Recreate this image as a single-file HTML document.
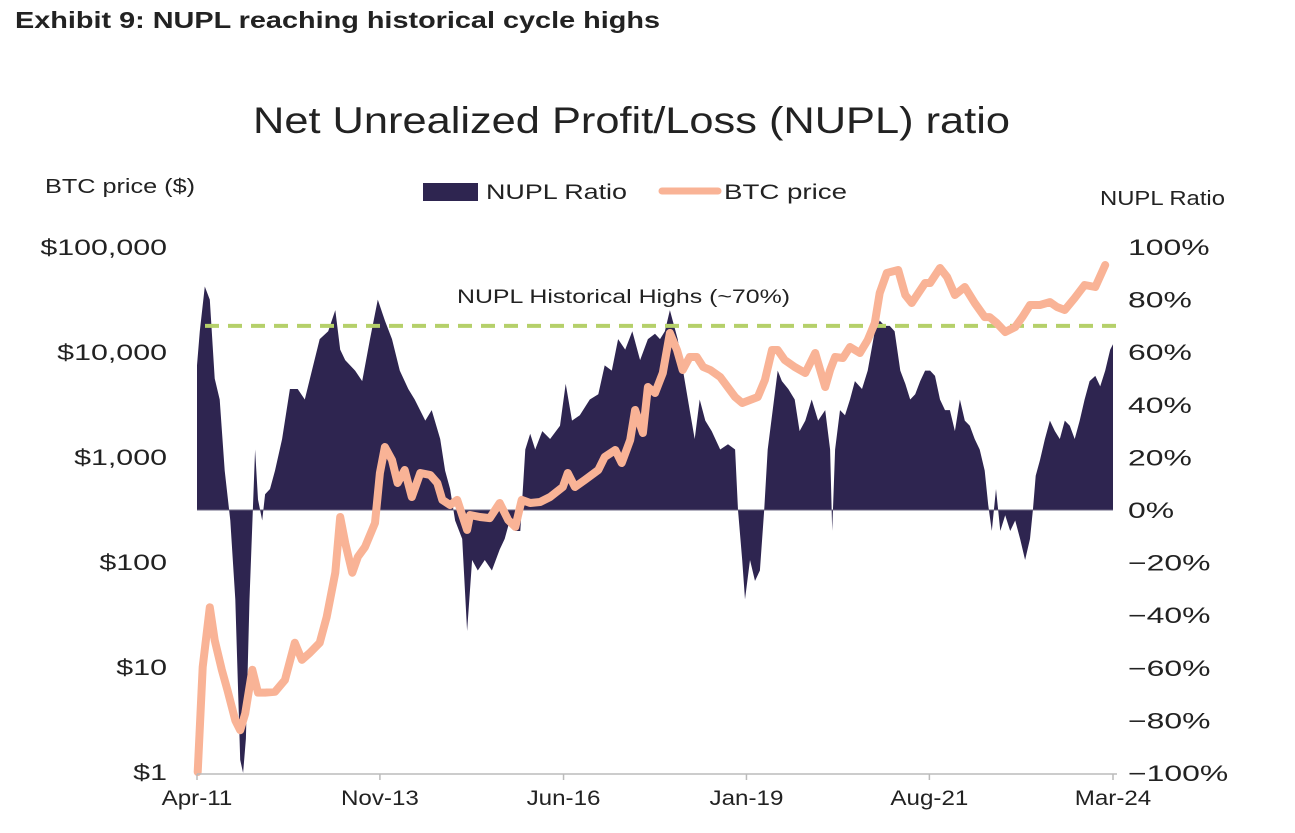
<!DOCTYPE html>
<html><head><meta charset="utf-8"><style>
body{margin:0;background:#fff;width:1295px;height:833px;overflow:hidden;font-family:"Liberation Sans",sans-serif}
svg{position:absolute;left:0;top:0}
</style></head><body>
<svg id="c" width="1295" height="833">
<text x="15" y="28" font-size="23" font-weight="bold" fill="#222" textLength="645" lengthAdjust="spacingAndGlyphs">Exhibit 9: NUPL reaching historical cycle highs</text>
<text x="253" y="133" font-size="37" fill="#222" textLength="757" lengthAdjust="spacingAndGlyphs">Net Unrealized Profit/Loss (NUPL) ratio</text>
<text x="45" y="193" font-size="20" fill="#222" textLength="150" lengthAdjust="spacingAndGlyphs">BTC price ($)</text>
<text x="1100" y="205" font-size="20" fill="#222" textLength="125" lengthAdjust="spacingAndGlyphs">NUPL Ratio</text>
<g>
<rect x="423" y="183" width="55" height="18" fill="#2e2550"/>
<text x="486" y="199" font-size="21" fill="#222" textLength="141" lengthAdjust="spacingAndGlyphs">NUPL Ratio</text>
<line x1="662" y1="191" x2="718" y2="191" stroke="#f9b396" stroke-width="7" stroke-linecap="round"/>
<text x="724" y="199" font-size="21" fill="#222" textLength="123" lengthAdjust="spacingAndGlyphs">BTC price</text>
</g>
<g id="plot"></g>
<text x="457" y="303" font-size="19" fill="#222" textLength="333" lengthAdjust="spacingAndGlyphs">NUPL Historical Highs (~70%)</text>
</svg>
<script>
const nuplDates=[2011.25,2011.29,2011.36,2011.43,2011.50,2011.57,2011.64,2011.72,2011.79,2011.86,2011.90,2011.94,2011.99,2012.07,2012.11,2012.17,2012.21,2012.28,2012.35,2012.45,2012.56,2012.67,2012.77,2012.87,2012.98,2013.10,2013.20,2013.27,2013.34,2013.48,2013.58,2013.69,2013.80,2013.90,2014.00,2014.11,2014.23,2014.32,2014.47,2014.56,2014.68,2014.75,2014.82,2014.89,2014.99,2015.06,2015.13,2015.21,2015.31,2015.41,2015.52,2015.59,2015.66,2015.74,2015.81,2015.88,2015.95,2016.02,2016.12,2016.23,2016.37,2016.45,2016.54,2016.65,2016.79,2016.91,2017.00,2017.10,2017.19,2017.29,2017.39,2017.50,2017.61,2017.71,2017.78,2017.85,2017.92,2017.96,2018.03,2018.13,2018.20,2018.27,2018.34,2018.42,2018.51,2018.63,2018.74,2018.84,2018.88,2018.94,2018.98,2019.05,2019.12,2019.19,2019.25,2019.30,2019.37,2019.44,2019.50,2019.59,2019.68,2019.75,2019.83,2019.92,2020.01,2020.11,2020.18,2020.21,2020.25,2020.32,2020.39,2020.46,2020.53,2020.63,2020.71,2020.81,2020.88,2020.95,2021.02,2021.09,2021.17,2021.24,2021.31,2021.38,2021.45,2021.52,2021.59,2021.66,2021.73,2021.80,2021.87,2021.94,2022.01,2022.08,2022.15,2022.22,2022.29,2022.36,2022.41,2022.46,2022.52,2022.58,2022.65,2022.72,2022.79,2022.86,2022.93,2023.00,2023.04,2023.08,2023.14,2023.21,2023.28,2023.35,2023.42,2023.49,2023.56,2023.63,2023.70,2023.77,2023.84,2023.92,2023.99,2024.06,2024.13,2024.17];
const nuplValues=[55,68,85,80,50,42,15,-4,-34,-95,-100,-87,-34,23,4,-4,6,8,15,27,46,46,42,53,65,68,76,61,57,53,49,65,80,72,65,53,46,42,34,38,27,15,8,-4,-11,-46,-19,-23,-19,-23,-15,-11,-4,-8,-8,23,29,23,30,27,32,48,34,36,42,44,55,53,65,61,68,57,65,67,65,68,76,72,65,49,38,27,42,34,30,23,25,23,0,-19,-34,-19,-27,-23,0,23,38,53,49,46,42,30,34,42,34,38,23,-8,23,38,36,42,49,46,53,68,72,70,70,68,53,48,42,44,49,53,53,51,42,38,38,30,42,34,32,27,23,15,2,-8,8,-8,-2,-8,-4,-11,-19,-11,0,13,19,27,34,30,27,34,32,27,34,42,49,51,47,53,61,63];
const priceDates=[2011.26,2011.33,2011.43,2011.50,2011.60,2011.68,2011.79,2011.86,2011.93,2012.03,2012.11,2012.21,2012.35,2012.49,2012.63,2012.73,2012.84,2012.98,2013.08,2013.20,2013.27,2013.34,2013.44,2013.52,2013.62,2013.76,2013.83,2013.90,2014.00,2014.08,2014.18,2014.28,2014.40,2014.54,2014.64,2014.71,2014.82,2014.92,2015.06,2015.10,2015.24,2015.38,2015.52,2015.64,2015.74,2015.83,2015.95,2016.09,2016.23,2016.41,2016.48,2016.58,2016.72,2016.91,2017.00,2017.15,2017.24,2017.36,2017.43,2017.54,2017.61,2017.71,2017.82,2017.92,2018.02,2018.10,2018.20,2018.30,2018.39,2018.49,2018.63,2018.84,2018.94,2019.05,2019.16,2019.26,2019.36,2019.44,2019.54,2019.68,2019.83,2019.97,2020.11,2020.18,2020.25,2020.36,2020.46,2020.60,2020.71,2020.81,2020.88,2020.98,2021.14,2021.24,2021.33,2021.52,2021.59,2021.73,2021.83,2021.94,2022.08,2022.22,2022.36,2022.43,2022.53,2022.65,2022.79,2022.89,2023.00,2023.14,2023.28,2023.38,2023.49,2023.63,2023.77,2023.92,2024.06,2024.16];
const priceValues=[1,10,37,18,9.4,6,3.1,2.5,3.6,9.4,5.7,5.7,5.8,7.5,17,11.7,13.6,17,30,79,268,152,79,112,139,235,704,1245,936,565,752,416,704,674,565,390,349,390,202,280,268,262,365,251,216,390,365,373,416,518,704,518,604,752,1000,1166,877,1452,2803,1693,4640,4070,6310,15170,10440,6740,8960,8960,7200,6740,5780,3730,3270,3490,3730,5410,10440,10440,8390,7200,6310,9780,4640,6740,8960,8770,11170,9780,13010,18880,36480,56550,60400,34900,29300,45400,45400,63100,51800,34900,41600,29300,21500,21500,18880,15500,17300,21500,28000,28000,29900,26800,25100,32700,43500,41600,67400];
const priceTickValues=[1,10,100,1000,10000,100000];
const priceTickLabels=["$1","$10","$100","$1,000","$10,000","$100,000"];
const nuplTickValues=[-100,-80,-60,-40,-20,0,20,40,60,80,100];
const dateTickValues=[2011.25,2013.83,2016.42,2019.0,2021.58,2024.17];
const dateTickLabels=["Apr-11","Nov-13","Jun-16","Jan-19","Aug-21","Mar-24"];
const highLevel=70;

const X0=197,X1=1113,T0=2011.25,T1=2024.17;
const xs=t=>X0+(t-T0)/(T1-T0)*(X1-X0);
const yP=p=>772-Math.log10(p)*105;
const yN=v=>510-v*2.63;
const NS='http://www.w3.org/2000/svg';
const plot=document.getElementById('plot');
function mk(tag,attrs){const e=document.createElementNS(NS,tag);for(const k in attrs)e.setAttribute(k,attrs[k]);plot.appendChild(e);return e;}
function widen(el,f){const w=el.getComputedTextLength();el.setAttribute('textLength',(w*f).toFixed(1));el.setAttribute('lengthAdjust','spacingAndGlyphs');}

let d='M'+xs(nuplDates[0])+','+yN(0);
nuplDates.forEach((t,i)=>{d+='L'+xs(t).toFixed(1)+','+yN(nuplValues[i]).toFixed(1);});
d+='L'+xs(nuplDates[nuplDates.length-1])+','+yN(0)+'Z';
const area=mk('path',{d:d,fill:'#2e2550'});


const zl=mk('line',{x1:xs(nuplDates[0]),x2:xs(nuplDates[nuplDates.length-1]),y1:yN(0),y2:yN(0),stroke:'#6a6480','stroke-width':1});



const th=mk('line',{x1:205,x2:1117,y1:yN(highLevel),y2:yN(highLevel),stroke:'#b5d06a','stroke-width':4,'stroke-dasharray':'14 9'});



const pts=priceDates.map((t,i)=>xs(t).toFixed(1)+','+yP(priceValues[i]).toFixed(1)).join(' ');
const pl=mk('polyline',{points:pts,fill:'none',stroke:'#f9b396','stroke-width':8,'stroke-linejoin':'round','stroke-linecap':'round'});



const ax=mk('line',{x1:X0,x2:1117,y1:774,y2:774,stroke:'#bbb','stroke-width':1.5});


dateTickValues.forEach((t,i)=>{
  const tk=mk('line',{x1:xs(t),x2:xs(t),y1:774,y2:780,stroke:'#bbb','stroke-width':1.5});
  
  
  const tx=mk('text',{x:xs(t),y:805,'font-size':21,fill:'#222','text-anchor':'middle'});
  tx.textContent=dateTickLabels[i];
  
  
  widen(tx,1.15);
});
priceTickValues.forEach((p,i)=>{
  const tx=mk('text',{x:167,y:yP(p)+8,'font-size':22,fill:'#222','text-anchor':'end'});
  tx.textContent=priceTickLabels[i];
  
  
  widen(tx,1.38);
});
nuplTickValues.forEach(v=>{
  const tx=mk('text',{x:1128,y:yN(v)+8,'font-size':22,fill:'#222'});
  tx.textContent=(v<0?'\u2212'+(-v):v)+'%';
  
  
  widen(tx,1.45);
});
</script>
</body></html>
